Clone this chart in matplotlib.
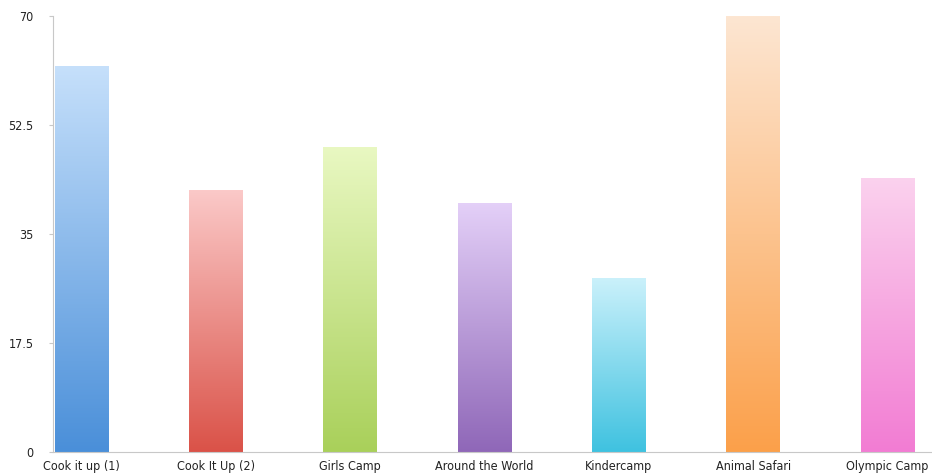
import numpy as np
import matplotlib
matplotlib.use('Agg')
import matplotlib.pyplot as plt
from matplotlib.colors import LinearSegmentedColormap

# данные
camps = ['Cook it up (1)', 'Cook It Up (2)', 'Girls Camp', 'Around the World',
         'Kindercamp', 'Animal Safari', 'Olympic Camp']
values = [62, 42, 49, 40, 28, 70, 44]
y_ticks = [0, 17.5, 35, 52.5, 70]
y_tick_labels = ['0', '17.5', '35', '52.5', '70']

# цвета градиента: (низ, верх)
grad_colors = [
    ('#4a8fd9', '#c6e0fb'),
    ('#da5248', '#fbc9c8'),
    ('#a9d05a', '#e9f8c2'),
    ('#8f67b8', '#e4d0f8'),
    ('#3fc2e0', '#cbf1fb'),
    ('#fba04a', '#fde6d2'),
    ('#f27cd3', '#fbd2ee'),
]

plt.rcParams['font.family'] = ['DejaVu Sans']
plt.rcParams['font.stretch'] = 'condensed'

fig = plt.figure(figsize=(9.32, 4.76), dpi=100)
fig.patch.set_facecolor('white')
ax = fig.add_axes([53 / 932, 24 / 476, 879 / 932, 436 / 476])

x = np.arange(len(camps))
bars = ax.bar(x, values, width=0.4, color='none', edgecolor='none')

# градиент внутри каждого столбца
grad = np.linspace(0, 1, 256).reshape(-1, 1)
for bar, (c_bot, c_top) in zip(bars, grad_colors):
    cmap = LinearSegmentedColormap.from_list('g', [c_bot, c_top])
    x0, y0 = bar.get_x(), bar.get_y()
    w, h = bar.get_width(), bar.get_height()
    im = ax.imshow(grad, cmap=cmap, aspect='auto', origin='lower',
                   extent=[x0, x0 + w, y0, y0 + h], zorder=2)
    im.set_clip_path(bar)

ax.set_xlim(-0.212, 6.33)
ax.set_ylim(0, 70)

ax.set_yticks(y_ticks)
ax.set_yticklabels(y_tick_labels)
ax.set_xticks(x)
ax.set_xticklabels(camps)

for side in ['top', 'right']:
    ax.spines[side].set_visible(False)
for side in ['left', 'bottom']:
    ax.spines[side].set_color('#c8c8c8')
    ax.spines[side].set_linewidth(0.8)

ax.tick_params(axis='y', length=3, color='#c8c8c8', labelsize=9,
               labelcolor='#222222', pad=11)
ax.tick_params(axis='x', length=0, labelsize=9, labelcolor='#222222', pad=6)

fig.savefig('out.png', dpi=100, facecolor='white')
